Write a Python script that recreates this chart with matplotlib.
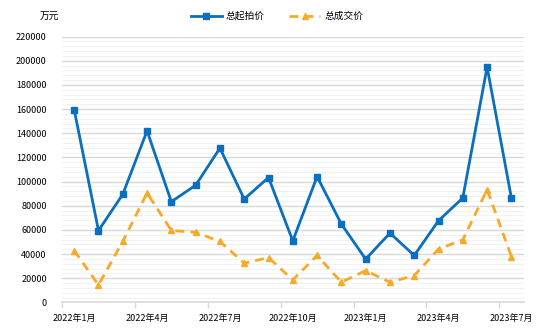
import numpy as np
import matplotlib.pyplot as plt
from matplotlib.ticker import MultipleLocator, NullFormatter, FixedLocator, FixedFormatter

plt.rcParams['font.family'] = ['Noto Sans CJK SC', 'DejaVu Sans']

months = ['2022年1月', '2022年2月', '2022年3月', '2022年4月', '2022年5月', '2022年6月',
          '2022年7月', '2022年8月', '2022年9月', '2022年10月', '2022年11月', '2022年12月',
          '2023年1月', '2023年2月', '2023年3月', '2023年4月', '2023年5月', '2023年6月',
          '2023年7月']
start_price = [159500, 59500, 89500, 142000, 83400, 97000, 127700, 85600, 103400, 51000,
               104200, 64900, 35900, 57400, 38900, 67700, 86500, 194900, 86500]
deal_price = [43000, 14500, 50500, 90600, 59600, 58000, 50500, 32500, 37200, 18700,
              38900, 16800, 26400, 16800, 22300, 44200, 51900, 93400, 38000]

blue = '#0A6FBE'
orange = '#F7A928'

fig = plt.figure(figsize=(5.54, 3.33), dpi=100)
ax = fig.add_axes([0.112, 0.0916, 0.833, 0.7985])

x = np.arange(len(months))
ax.plot(x, start_price, color=blue, lw=2.0, marker='s', ms=5, label='总起拍价', zorder=3)
ax.plot(x, deal_price, color=orange, lw=2.0, ls=(0, (3.2, 2.2)), marker='^', ms=4.5,
        label='总成交价', zorder=3)

ax.set_xlim(-0.5, len(months) - 0.5)
ax.set_ylim(0, 220000)

# category boundaries carry the tick marks, labels sit on the category centres
label_pos = x[::3]
ax.xaxis.set_major_locator(FixedLocator(label_pos - 0.5))
ax.xaxis.set_major_formatter(NullFormatter())
ax.xaxis.set_minor_locator(FixedLocator(label_pos))
ax.xaxis.set_minor_formatter(FixedFormatter([months[i] for i in label_pos]))
ax.tick_params(axis='x', which='major', length=4, color='#d9d9d9', width=1)
ax.tick_params(axis='x', which='minor', length=0, pad=8, labelsize=6.5)

ax.yaxis.set_major_locator(MultipleLocator(20000))
ax.yaxis.set_minor_locator(MultipleLocator(4000))
ax.tick_params(axis='y', which='both', length=0, pad=11, labelsize=6.5)
ax.grid(axis='y', which='major', color='#d9d9d9', lw=1.0, zorder=0)
ax.grid(axis='y', which='minor', color='#f2f2f2', lw=0.8, zorder=0)
ax.set_axisbelow(True)

for side in ['top', 'right', 'left']:
    ax.spines[side].set_visible(False)
ax.spines['bottom'].set_color('#d9d9d9')
ax.spines['bottom'].set_linewidth(1.2)

fig.text(0.072, 0.952, '万元', fontsize=7, ha='left', va='center')
fig.legend(loc='center', bbox_to_anchor=(0.5, 0.952), ncol=2, frameon=False,
           fontsize=7, handlelength=3.2, columnspacing=2.5, handletextpad=0.4)

fig.savefig('out.png', dpi=100)
